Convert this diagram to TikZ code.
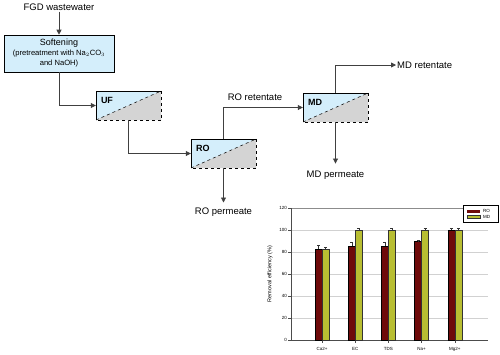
\documentclass[tikz,border=0pt]{standalone}
\usepackage{fontspec}
\setmainfont{Liberation Sans}
\usetikzlibrary{arrows.meta}
\definecolor{boxblue}{HTML}{D4EEFB}
\definecolor{boxgray}{HTML}{D4D4D4}
\definecolor{robar}{HTML}{6E0A0A}
\definecolor{mdbar}{HTML}{B8BE32}
\definecolor{linec}{HTML}{404040}
\begin{document}
\begin{tikzpicture}[x=1pt,y=-1pt,
  lbl/.style={font=\fontsize{9.5}{11}\selectfont, inner sep=1pt},
  conn/.style={draw=linec, line width=0.8pt, -{Triangle[length=5pt,width=5pt]}},
  mem/.style={rectangle, minimum width=65pt, minimum height=29pt, inner sep=0pt, fill=boxblue,
    path picture={
      \fill[boxgray] (path picture bounding box.south west) -- (path picture bounding box.north east) -- (path picture bounding box.south east) -- cycle;
      \draw[dashed, line width=0.5pt] (path picture bounding box.south west) -- (path picture bounding box.north east);}},
  memlabel/.style={font=\bfseries\fontsize{9}{10}\selectfont, anchor=north west, inner sep=0pt},
  tick/.style={font=\fontsize{4.5}{5}\selectfont, inner sep=1pt},
]
\useasboundingbox (0,0) rectangle (500,354);
\fill[white] (0,0) rectangle (500,354);

% flow chart
\node[lbl] (fgd) at (59,7) {FGD wastewater};
\node[draw=black, line width=0.6pt, fill=boxblue, minimum width=110pt, minimum height=37pt, align=center, inner sep=1pt,
  font=\fontsize{7.6}{10}\selectfont] (soft) at (59,53.5)
  {{\fontsize{9}{10}\selectfont Softening}\\(pretreatment with Na$_2$CO$_3$\\and NaOH)};

\node[mem] (uf) at (128.5,105.5) {};
\node[mem] (ro) at (223.5,153.5) {};
\node[mem] (md) at (335.5,107.5) {};
\foreach \n/\t in {uf/UF, ro/RO, md/MD}{
  \draw[line width=0.6pt] (\n.south west) -- (\n.north west) -- (\n.north east);
  \draw[dashed, line width=0.6pt] (\n.north east) -- (\n.south east) -- (\n.south west);
  \node[memlabel] (\n lab) at ([xshift=5pt,yshift=-6pt]\n.north west) {\t};
}

\node[lbl] (roret) at (255,97) {RO retentate};
\node[lbl, anchor=west] (mdret) at (396,65) {MD retentate};
\node[lbl] (mdperm) at (335.5,175) {MD permeate};
\node[lbl] (roperm) at (223.5,212) {RO permeate};

\draw[conn] (fgd.south) -- (soft.north);
\draw[conn] (soft.south) |- (uf.west);
\draw[conn] (uf.south) |- (ro.west);
\draw[conn] (ro.north) |- (md.west);
\draw[conn] (md.north) |- (mdret.west);
\draw[conn, shorten >=6pt] (md.south) -- (mdperm.north);
\draw[conn, shorten >=4pt] (ro.south) -- (roperm.north);

% chart
\foreach \v in {20,40,60,80,100}{
  \draw[black!18, line width=0.4pt] (291,{340-1.1*\v}) -- (488,{340-1.1*\v});
}
\draw[black!45, line width=0.4pt] (291,208) -- (488,208);
\draw[black!70, line width=0.5pt] (291,208) -- (291,340) -- (488,340);
\foreach \v in {0,20,...,120}{
  \draw[black!70, line width=0.4pt] (288,{340-1.1*\v}) -- (291,{340-1.1*\v});
  \node[tick, anchor=east] (yt\v) at (288,{340-1.1*\v}) {\v};
}
\node[tick, rotate=90, font=\fontsize{5.5}{6}\selectfont] (ylab) at (270,274) {Removal efficiency (\%)};

\foreach \i/\name/\r/\re/\m/\me in {0/Ca2+/83/3/83/1.5, 1/EC/85.5/3.5/100/2, 2/TDS/85.5/3/100/2, 3/Na+/89.5/1.5/100/1.5, 4/Mg2+/100/1.5/100/1.5}{
  \pgfmathsetmacro{\cx}{322+33.2*\i}
  \draw[black!70, line width=0.4pt] (\cx,340) -- (\cx,343);
  \fill[robar] ({\cx-7},340) rectangle (\cx,{340-1.1*\r});
  \draw[black, line width=0.4pt] ({\cx-7},340) rectangle (\cx,{340-1.1*\r});
  \fill[mdbar] (\cx,340) rectangle ({\cx+7},{340-1.1*\m});
  \draw[black!80, line width=0.4pt] (\cx,340) rectangle ({\cx+7},{340-1.1*\m});
  \draw[black!80, line width=0.4pt] ({\cx-3.5},{340-1.1*\r}) -- ({\cx-3.5},{340-1.1*(\r+\re)});
  \draw[black!80, line width=0.4pt] ({\cx-5},{340-1.1*(\r+\re)}) -- ({\cx-2},{340-1.1*(\r+\re)});
  \draw[black!80, line width=0.4pt] ({\cx+3.5},{340-1.1*\m}) -- ({\cx+3.5},{340-1.1*(\m+\me)});
  \draw[black!80, line width=0.4pt] ({\cx+2},{340-1.1*(\m+\me)}) -- ({\cx+5},{340-1.1*(\m+\me)});
  \node[tick] (xt\i) at (\cx,349) {\name};
}

% legend
\draw[black, line width=0.5pt, fill=white] (463,205) rectangle (498,222);
\fill[robar] (467,209.5) rectangle (480,213);
\fill[mdbar] (467,215) rectangle (480,218.5);
\draw[black!80, line width=0.3pt] (467,215) rectangle (480,218.5);
\node[tick, anchor=west] (legro) at (482,211) {RO};
\node[tick, anchor=west] (legmd) at (482,217) {MD};
\end{tikzpicture}
\end{document}
